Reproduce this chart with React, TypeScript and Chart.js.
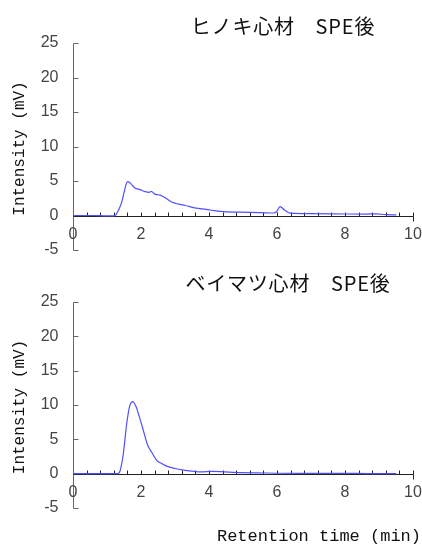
import React, { useEffect, useRef } from "react";
import { Chart, registerables } from "chart.js";

Chart.register(...registerables);

// ---- data ----
const titles = ["ヒノキ心材　SPE後", "ベイマツ心材　SPE後"];
const yAxisTitle = "Intensity (mV)";
const xAxisTitle = "Retention time (min)";
const yTicks = [-5, 0, 5, 10, 15, 20, 25];
const xTicks = [0, 2, 4, 6, 8, 10];

const hinokiTime = [0, 0.6, 1.0, 1.2, 1.26, 1.35, 1.43, 1.5, 1.56, 1.61, 1.68, 1.82, 1.97, 2.12, 2.24, 2.3, 2.41, 2.56, 2.7, 2.9, 3.1, 3.3, 3.54, 3.8, 4.03, 4.42, 4.9, 5.5, 5.9, 5.98, 6.09, 6.22, 6.38, 7.0, 8.0, 8.6, 8.9, 9.2, 9.51];
const hinokiIntensity = [0, 0, -0.05, -0.05, 0.1, 0.9, 1.9, 3.3, 4.5, 4.9, 4.7, 4.0, 3.75, 3.45, 3.35, 3.5, 3.1, 2.95, 2.6, 1.95, 1.65, 1.45, 1.15, 0.95, 0.8, 0.55, 0.48, 0.42, 0.36, 0.5, 1.28, 0.8, 0.35, 0.28, 0.22, 0.2, 0.25, 0.12, 0.08];

const beimatsuTime = [0, 0.6, 1.0, 1.28, 1.35, 1.39, 1.48, 1.58, 1.67, 1.76, 1.86, 1.95, 2.04, 2.2, 2.31, 2.47, 2.6, 2.77, 3.0, 3.2, 3.5, 3.75, 4.1, 4.7, 5.7, 6.7, 7.7, 8.7, 9.51];
const beimatsuIntensity = [0, 0, 0, 0, 0.1, 0.5, 2.9, 7.3, 9.9, 10.5, 9.7, 8.3, 6.8, 4.1, 3.15, 1.9, 1.5, 1.06, 0.75, 0.55, 0.38, 0.26, 0.32, 0.2, 0.1, 0.05, 0.05, 0.02, 0];

const LINE_COLOR = "#5050ff";
const MONO = "'Liberation Mono', 'DejaVu Sans Mono', monospace";

type PanelCfg = {
  title: string;
  titleX: number;
  titleY: number;
  showXTitle: boolean;
  padding: { top: number; bottom: number; left: number; right: number };
};

function makePlugin(cfg: PanelCfg) {
  return {
    id: "customAxes",
    beforeDatasetsDraw(chart: any) {
      const ctx = chart.ctx as any;
      const xs = chart.scales.x;
      const ys = chart.scales.y;
      const area = chart.chartArea;
      const x0 = Math.round(xs.getPixelForValue(0)) + 0.5;
      const y0 = Math.round(ys.getPixelForValue(0)) + 0.5;
      ctx.save();
      // y axis
      ctx.strokeStyle = "#666";
      ctx.lineWidth = 1;
      ctx.beginPath();
      ctx.moveTo(x0, Math.round(ys.getPixelForValue(25)) + 0.5);
      ctx.lineTo(x0, Math.round(ys.getPixelForValue(-5)) + 0.5);
      for (const v of yTicks) {
        const py = Math.round(ys.getPixelForValue(v)) + 0.5;
        ctx.moveTo(x0, py);
        ctx.lineTo(x0 + 5, py);
      }
      ctx.stroke();
      // x axis
      ctx.strokeStyle = "#222";
      ctx.beginPath();
      ctx.moveTo(x0, y0);
      ctx.lineTo(Math.round(xs.getPixelForValue(10)) + 0.5, y0);
      for (let i = 1; i <= 25; i++) {
        const v = i * 0.4;
        const px = Math.round(xs.getPixelForValue(v)) + 0.5;
        ctx.moveTo(px, y0);
        ctx.lineTo(px, y0 - 4);
        if (i === 25) {
          ctx.moveTo(px, y0);
          ctx.lineTo(px, y0 + 5);
        }
      }
      ctx.stroke();
      // tick labels
      ctx.fillStyle = "#444";
      ctx.font = "16px 'Liberation Sans', sans-serif";
      ctx.textAlign = "right";
      ctx.textBaseline = "middle";
      for (const v of yTicks) {
        ctx.fillText(String(v), x0 - 15, ys.getPixelForValue(v));
      }
      ctx.textAlign = "center";
      for (const v of xTicks) {
        ctx.fillText(String(v), xs.getPixelForValue(v), y0 + 18);
      }
      // y axis title
      ctx.fillStyle = "#111";
      ctx.font = "16px " + MONO;
      ctx.save();
      ctx.translate(20, (area.top + area.bottom) / 2 + 2);
      ctx.rotate(-Math.PI / 2);
      ctx.textAlign = "center";
      ctx.textBaseline = "middle";
      ctx.fillText(yAxisTitle, 0, 0);
      ctx.restore();
      // title
      ctx.font = "20px 'Noto Sans CJK JP', sans-serif";
      ctx.letterSpacing = "0.8px";
      ctx.textAlign = "center";
      ctx.textBaseline = "middle";
      ctx.fillText(cfg.title, cfg.titleX, cfg.titleY);
      ctx.letterSpacing = "0px";
      if (cfg.showXTitle) {
        ctx.font = "17px " + MONO;
        ctx.textAlign = "right";
        ctx.fillText(xAxisTitle, 421, area.bottom + 28);
      }
      ctx.restore();
    },
  };
}

function Panel(props: {
  width: number;
  height: number;
  top: number;
  time: number[];
  values: number[];
  cfg: PanelCfg;
}) {
  const ref = useRef<HTMLCanvasElement | null>(null);
  useEffect(() => {
    if (!ref.current) return;
    const points = props.time.map((t, i) => ({ x: t, y: props.values[i] }));
    const chart = new Chart(ref.current, {
      type: "line",
      data: {
        datasets: [
          {
            data: points,
            borderColor: LINE_COLOR,
            borderWidth: 1.2,
            pointRadius: 0,
            fill: false,
            cubicInterpolationMode: "monotone",
          },
        ],
      },
      options: {
        responsive: false,
        animation: false,
        devicePixelRatio: 1,
        layout: { padding: props.cfg.padding },
        plugins: { legend: { display: false }, tooltip: { enabled: false }, title: { display: false } },
        scales: {
          x: { type: "linear", min: 0, max: 10, display: false },
          y: { type: "linear", min: -5, max: 25, display: false },
        },
      },
      plugins: [makePlugin(props.cfg)],
    } as any);
    return () => chart.destroy();
  }, []);
  return (
    <canvas
      ref={ref}
      width={props.width}
      height={props.height}
      style={{ position: "absolute", left: 0, top: props.top, width: props.width, height: props.height }}
    />
  );
}

export default function App() {
  return (
    <div style={{ position: "absolute", left: 0, top: 0, width: 422, height: 545, background: "#fff" }}>
      <Panel
        width={422}
        height={262}
        top={0}
        time={hinokiTime}
        values={hinokiIntensity}
        cfg={{
          title: titles[0],
          titleX: 283,
          titleY: 26,
          showXTitle: false,
          padding: { top: 43, bottom: 12, left: 73, right: 9 },
        }}
      />
      <Panel
        width={422}
        height={283}
        top={262}
        time={beimatsuTime}
        values={beimatsuIntensity}
        cfg={{
          title: titles[1],
          titleX: 288,
          titleY: 21,
          showXTitle: true,
          padding: { top: 40, bottom: 37, left: 73, right: 9 },
        }}
      />
    </div>
  );
}
